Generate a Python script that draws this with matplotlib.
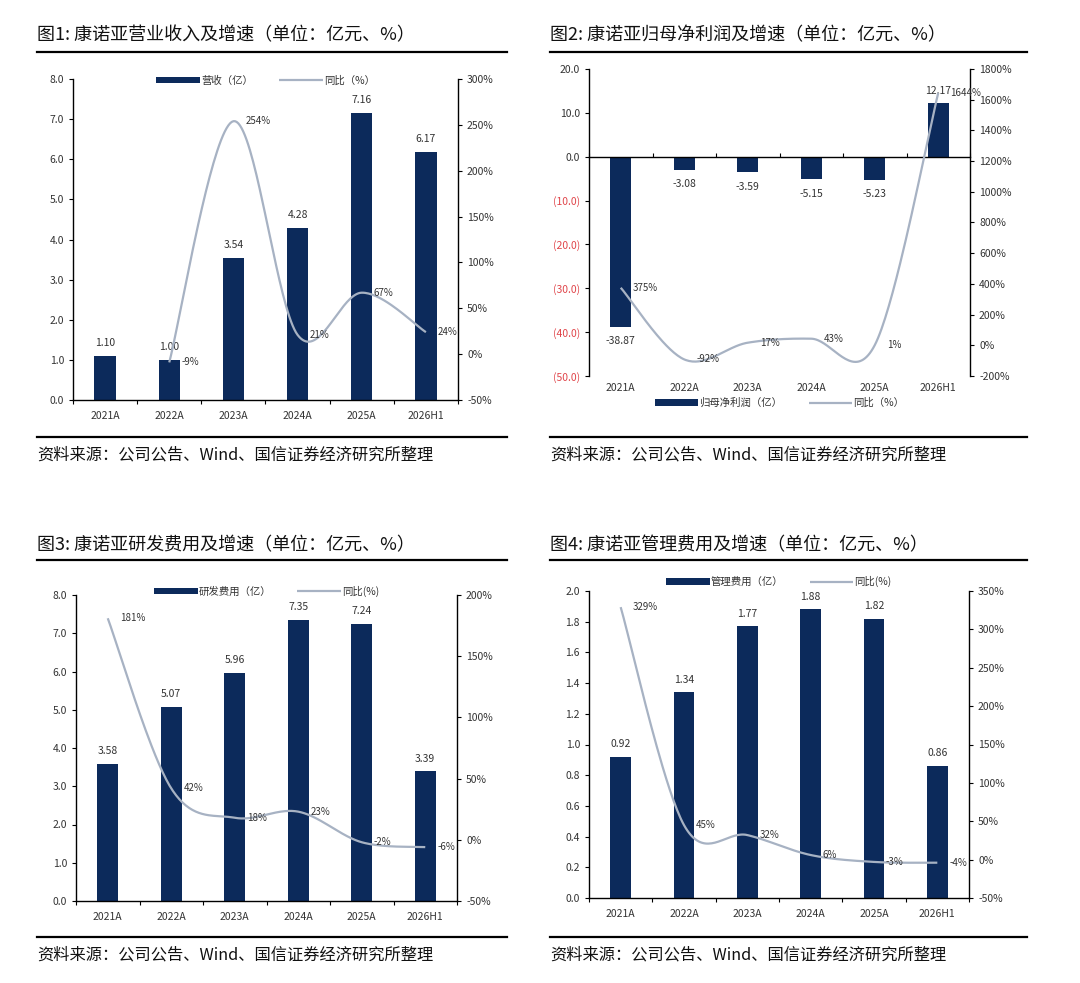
import numpy as np
import matplotlib
matplotlib.use("Agg")
import matplotlib.pyplot as plt
from matplotlib.lines import Line2D

plt.rcParams['font.family'] = ['Noto Sans CJK SC', 'DejaVu Sans']

W, H = 1080, 983
BAR_COLOR = '#0c2a5b'
LINE_COLOR = '#a7b2c3'
TXT = '#333333'

years = ['2021A', '2022A', '2023A', '2024A', '2025A', '2026H1']

revenue = [1.10, 1.00, 3.54, 4.28, 7.16, 6.17]
revenue_yoy = [None, -9, 254, 21, 67, 24]

net_profit = [-38.87, -3.08, -3.59, -5.15, -5.23, 12.17]
net_profit_yoy = [375, -92, 17, 43, 1, 1644]

rd_cost = [3.58, 5.07, 5.96, 7.35, 7.24, 3.39]
rd_yoy = [181, 42, 18, 23, -2, -6]

admin_cost = [0.92, 1.34, 1.77, 1.88, 1.82, 0.86]
admin_yoy = [329, 45, 32, 6, -3, -4]

titles = ['图1: 康诺亚营业收入及增速（单位：亿元、%）',
          '图2: 康诺亚归母净利润及增速（单位：亿元、%）',
          '图3: 康诺亚研发费用及增速（单位：亿元、%）',
          '图4: 康诺亚管理费用及增速（单位：亿元、%）']
source = '资料来源：公司公告、Wind、国信证券经济研究所整理'


def smooth(xs, ys, n=40):
    # excel-like smoothed line (bezier through points)
    pts = np.column_stack([xs, ys]).astype(float)
    out = []
    for i in range(len(pts) - 1):
        p0 = pts[max(i - 1, 0)]
        p1 = pts[i]
        p2 = pts[i + 1]
        p3 = pts[min(i + 2, len(pts) - 1)]
        c1 = p1 + (p2 - p0) / 6
        c2 = p2 - (p3 - p1) / 6
        t = np.linspace(0, 1, n)[:, None]
        seg = (1 - t) ** 3 * p1 + 3 * (1 - t) ** 2 * t * c1 + 3 * (1 - t) * t ** 2 * c2 + t ** 3 * p2
        out.append(seg if i == 0 else seg[1:])
    s = np.vstack(out)
    return s[:, 0], s[:, 1]


def px_rect(l, r, t, b):
    return [l / W, 1 - b / H, (r - l) / W, (b - t) / H]


def fig_line(fig, x0, x1, y):
    fig.add_artist(Line2D([x0 / W, x1 / W], [1 - y / H, 1 - y / H],
                          transform=fig.transFigure, color='black', lw=1.6))


def draw_panel(fig, rect, vals, yoy, yl, yr, yticks, rticks, labels, legend_y,
               neg_paren=False, zero_axis=False):
    ax = fig.add_axes(rect)
    x = np.arange(len(years))
    bars = ax.bar(x, vals, width=0.33, color=BAR_COLOR, label=labels[0], zorder=2)
    ax.set_xlim(-0.5, len(years) - 0.5)
    ax.set_ylim(*yl)
    ax.set_yticks(yticks)
    if neg_paren:
        ylabs = ['(%.1f)' % abs(v) if v < 0 else '%.1f' % v for v in yticks]
    else:
        ylabs = ['%.1f' % v for v in yticks]
    ax.set_yticklabels(ylabs)
    for lab, v in zip(ax.get_yticklabels(), yticks):
        lab.set_color('#e0454a' if (neg_paren and v < 0) else TXT)
    ax.set_xticks(x)
    ax.set_xticklabels(years)
    ax.set_xticks(np.arange(-0.5, len(years), 1), minor=True)
    ax.tick_params(axis='y', labelsize=7.5, length=3, width=0.8, direction='out')
    ax.tick_params(axis='x', which='major', labelsize=7.5, length=0, colors=TXT,
                   pad=5 if zero_axis else 8)
    ax.spines['right'].set_visible(False)
    if zero_axis:
        ax.spines['bottom'].set_visible(False)
        ax.spines['top'].set_position(('data', 0))
        ax.spines['top'].set_linewidth(1.0)
        ax.tick_params(axis='x', which='minor', bottom=False, top=True,
                       direction='out', length=3, width=0.8)
    else:
        ax.spines['top'].set_visible(False)
        ax.spines['bottom'].set_linewidth(1.0)
        ax.tick_params(axis='x', which='minor', bottom=True, length=3, width=0.8,
                       direction='out')
    ax.spines['left'].set_linewidth(1.0)

    # bar value labels
    span = yl[1] - yl[0]
    for xi, v in zip(x, vals):
        if v >= 0:
            ax.text(xi, v + span * 0.025, '%.2f' % v, ha='center', va='bottom',
                    fontsize=7.5, color=TXT)
        else:
            ax.text(xi, v - span * 0.03, '%.2f' % v, ha='center', va='top',
                    fontsize=7.5, color=TXT)

    ax2 = ax.twinx()
    ax2.set_ylim(*yr)
    ax2.set_yticks(rticks)
    ax2.set_yticklabels(['%d%%' % v for v in rticks])
    ax2.tick_params(axis='y', labelsize=7.5, length=3, width=0.8, colors='black',
                    labelcolor=TXT)
    for s in ['top', 'left', 'bottom']:
        ax2.spines[s].set_visible(False)
    ax2.spines['right'].set_linewidth(1.0)

    lx = [xi for xi, v in zip(x, yoy) if v is not None]
    ly = [v for v in yoy if v is not None]
    sx, sy = smooth(lx, ly)
    line, = ax2.plot(sx, sy, color=LINE_COLOR, lw=1.6, label=labels[1],
                     solid_capstyle='butt')
    for xi, v in zip(lx, ly):
        ax2.text(xi + 0.19, v, '%d%%' % v, ha='left', va='center', fontsize=7, color=TXT)

    leg = ax2.legend([bars, line], labels, ncol=2, frameon=False, fontsize=7.5,
                     loc='center', bbox_to_anchor=(0.5, legend_y),
                     handlelength=4.2, handleheight=0.6, columnspacing=2.5,
                     handletextpad=0.1)
    for t in leg.get_texts():
        t.set_color(TXT)
    return ax, ax2


fig = plt.figure(figsize=(W / 100, H / 100), dpi=100)

# panel 1
draw_panel(fig, px_rect(73, 458, 79, 400), revenue, revenue_yoy,
           (0, 8), (-50, 300), np.arange(0, 8.1, 1.0), np.arange(-50, 301, 50),
           ['营收（亿）', '同比（%）'], 0.995)
# panel 2
draw_panel(fig, px_rect(589, 970, 69, 376), net_profit, net_profit_yoy,
           (-50, 20), (-200, 1800), np.arange(-50, 20.1, 10.0), np.arange(-200, 1801, 200),
           ['归母净利润（亿）', '同比（%）'], -0.088, neg_paren=True, zero_axis=True)
# panel 3
draw_panel(fig, px_rect(76, 457, 595, 901), rd_cost, rd_yoy,
           (0, 8), (-50, 200), np.arange(0, 8.1, 1.0), np.arange(-50, 201, 50),
           ['研发费用（亿）', '同比(%)'], 1.013)
# panel 4
draw_panel(fig, px_rect(589, 969, 591, 898), admin_cost, admin_yoy,
           (0, 2.0), (-50, 350), np.arange(0, 2.01, 0.2), np.arange(-50, 351, 50),
           ['管理费用（亿）', '同比(%)'], 1.03)

# titles, rules, sources
for (x0, x1, ty, r1, r2, sy), title in zip(
        [(37, 507, 35, 52, 437, 455), (550, 1027, 35, 52, 437, 455),
         (37, 507, 545, 560, 937, 955), (550, 1027, 545, 560, 937, 955)], titles):
    fig.text(x0 / W, 1 - ty / H, title, ha='left', va='center', fontsize=13, color='#111111')
    fig_line(fig, x0, x1, r1)
    fig_line(fig, x0, x1, r2)
    fig.text(x0 / W, 1 - sy / H, source, ha='left', va='center', fontsize=11.7, color='#111111')

fig.savefig('out.png', dpi=100, facecolor='white')
